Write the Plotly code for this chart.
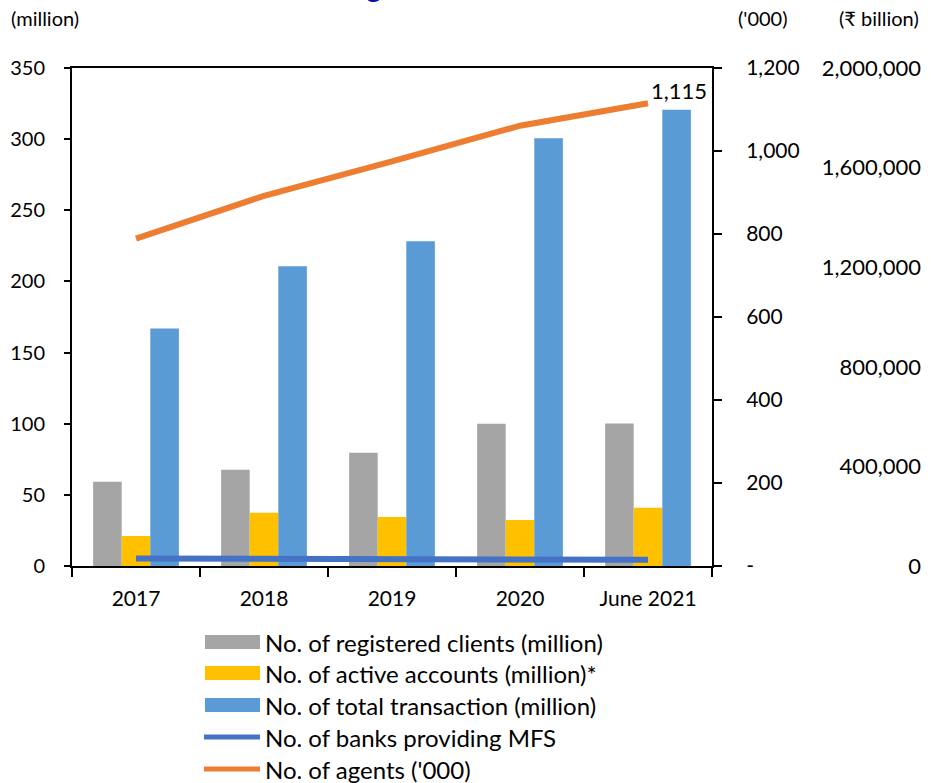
import plotly.graph_objects as go

# ---------------- data ----------------
categories = ["2017", "2018", "2019", "2020", "June 2021"]
registered_clients = [59.2, 67.6, 79.6, 100.0, 100.2]      # million
active_accounts = [21.1, 37.5, 34.5, 32.4, 41.0]            # million
total_transactions = [166.9, 210.6, 228.2, 300.7, 320.6]    # million
banks_mfs = [18, 17, 16, 15, 15]                            # count ('000 axis)
agents = [789, 892, 975, 1061, 1115]                         # '000

left_ticks = [0, 50, 100, 150, 200, 250, 300, 350]
right_ticks = [0, 200, 400, 600, 800, 1000, 1200]
right_ticktext = ["-", "200", "400", "600", "800", "1,000", "1,200"]
far_ticks = [0, 400000, 800000, 1200000, 1600000, 2000000]
far_ticktext = ["0", "400,000", "800,000", "1,200,000", "1,600,000", "2,000,000"]

legend_labels = [
    "No. of registered clients (million)",
    "No. of active accounts (million)*",
    "No. of total transaction (million)",
    "No. of banks providing MFS",
    "No. of agents ('000)",
]

# ---------------- style ----------------
W, H = 933, 783
ML, MR, MT, MB = 72, 10, 68, 217
PW = W - ML - MR
PH = H - MT - MB
FONT = "Lato, 'Open Sans', sans-serif"
GRAY, YELLOW, BLUE, DBLUE, ORANGE = "#A5A5A5", "#FFC000", "#5B9BD5", "#4472C4", "#ED7D31"


def px2x(px):
    return (px - ML) / PW


def px2y(py):
    return (H - MB - py) / PH


fig = go.Figure()
fig.add_trace(go.Bar(x=categories, y=registered_clients, name=legend_labels[0],
                     marker=dict(color=GRAY, line=dict(width=0))))
fig.add_trace(go.Bar(x=categories, y=active_accounts, name=legend_labels[1],
                     marker=dict(color=YELLOW, line=dict(width=0))))
fig.add_trace(go.Bar(x=categories, y=total_transactions, name=legend_labels[2],
                     marker=dict(color=BLUE, line=dict(width=0))))
fig.add_trace(go.Scatter(x=categories, y=banks_mfs, name=legend_labels[3], yaxis="y2",
                         mode="lines", line=dict(color=DBLUE, width=6)))
fig.add_trace(go.Scatter(x=categories, y=agents, name=legend_labels[4], yaxis="y2",
                         mode="lines", line=dict(color=ORANGE, width=6)))
# carrier for the third (₹ billion) axis
fig.add_trace(go.Scatter(x=categories, y=[None] * len(categories), yaxis="y3",
                         mode="lines", showlegend=False, hoverinfo="skip"))


def axis_common(size):
    return dict(showgrid=False, zeroline=False, linecolor="black",
                tickcolor="black", tickfont=dict(family=FONT, size=size, color="black"))


fig.update_layout(
    width=W, height=H,
    margin=dict(l=ML, r=MR, t=MT, b=MB, pad=0),
    paper_bgcolor="white", plot_bgcolor="white",
    showlegend=False,
    barmode="group", bargap=0.33, bargroupgap=0,
    font=dict(family=FONT, color="black"),
    xaxis=dict(domain=[0, 640 / PW], type="category", showline=True, linewidth=2,
               mirror=True, ticks="outside", ticklen=9, tickwidth=2,
               tickson="boundaries", ticklabelstandoff=13, **axis_common(21)),
    yaxis=dict(range=[0, 350], tickvals=left_ticks, showline=True, linewidth=2,
               ticks="outside", ticklen=6, tickwidth=2, ticklabelstandoff=15,
               **axis_common(20)),
    yaxis2=dict(range=[0, 1200], tickvals=right_ticks, ticktext=right_ticktext,
                overlaying="y", side="right", anchor="x", showline=True, linewidth=2,
                ticks="outside", ticklen=8, tickwidth=2, ticklabelstandoff=20,
                **axis_common(21)),
    yaxis3=dict(range=[0, 2000000], tickvals=far_ticks, ticktext=far_ticktext,
                overlaying="y", side="left", anchor="free", position=1.0,
                showline=False, ticks="", ticklabelstandoff=2, **axis_common(22)),
)

annotations = [
    dict(text="(million)", x=px2x(9), y=px2y(18), xanchor="left", yanchor="middle"),
    dict(text="('000)", x=px2x(763), y=px2y(18), xanchor="center", yanchor="middle"),
    dict(text="(₹ billion)", x=px2x(921), y=px2y(18), xanchor="right", yanchor="middle"),
]
for a in annotations:
    a.update(xref="paper", yref="paper", showarrow=False,
             font=dict(family=FONT, size=20, color="black"))

# cut-off title fragment at the very top
annotations.append(dict(text="g", xref="paper", yref="paper", x=px2x(374), y=px2y(5),
                        xanchor="center", yanchor="bottom", showarrow=False,
                        font=dict(family=FONT, size=30, color="#0C0CA8")))

# data label for last agents point
annotations.append(dict(text=f"{agents[-1]:,}", x=categories[-1], y=agents[-1],
                        xref="x", yref="y2", xanchor="left", yanchor="bottom",
                        xshift=1, yshift=-3, showarrow=False,
                        font=dict(family=FONT, size=22, color="black")))

# manual legend
shapes = []
rows = [642, 673, 705, 737, 769]
kinds = [("rect", GRAY), ("rect", YELLOW), ("rect", BLUE), ("line", DBLUE), ("line", ORANGE)]
for (kind, col), ry, lab in zip(kinds, rows, legend_labels):
    if kind == "rect":
        shapes.append(dict(type="rect", xref="paper", yref="paper",
                           x0=px2x(205), x1=px2x(260), y0=px2y(ry - 7), y1=px2y(ry + 7),
                           fillcolor=col, line=dict(width=0)))
    else:
        shapes.append(dict(type="line", xref="paper", yref="paper",
                           x0=px2x(204), x1=px2x(260), y0=px2y(ry), y1=px2y(ry),
                           line=dict(color=col, width=5)))
    annotations.append(dict(text=lab, xref="paper", yref="paper", x=px2x(263), y=px2y(ry),
                            xanchor="left", yanchor="middle", showarrow=False,
                            font=dict(family=FONT, size=24, color="black")))

fig.update_layout(annotations=annotations, shapes=shapes)

fig.write_html("out.html")
